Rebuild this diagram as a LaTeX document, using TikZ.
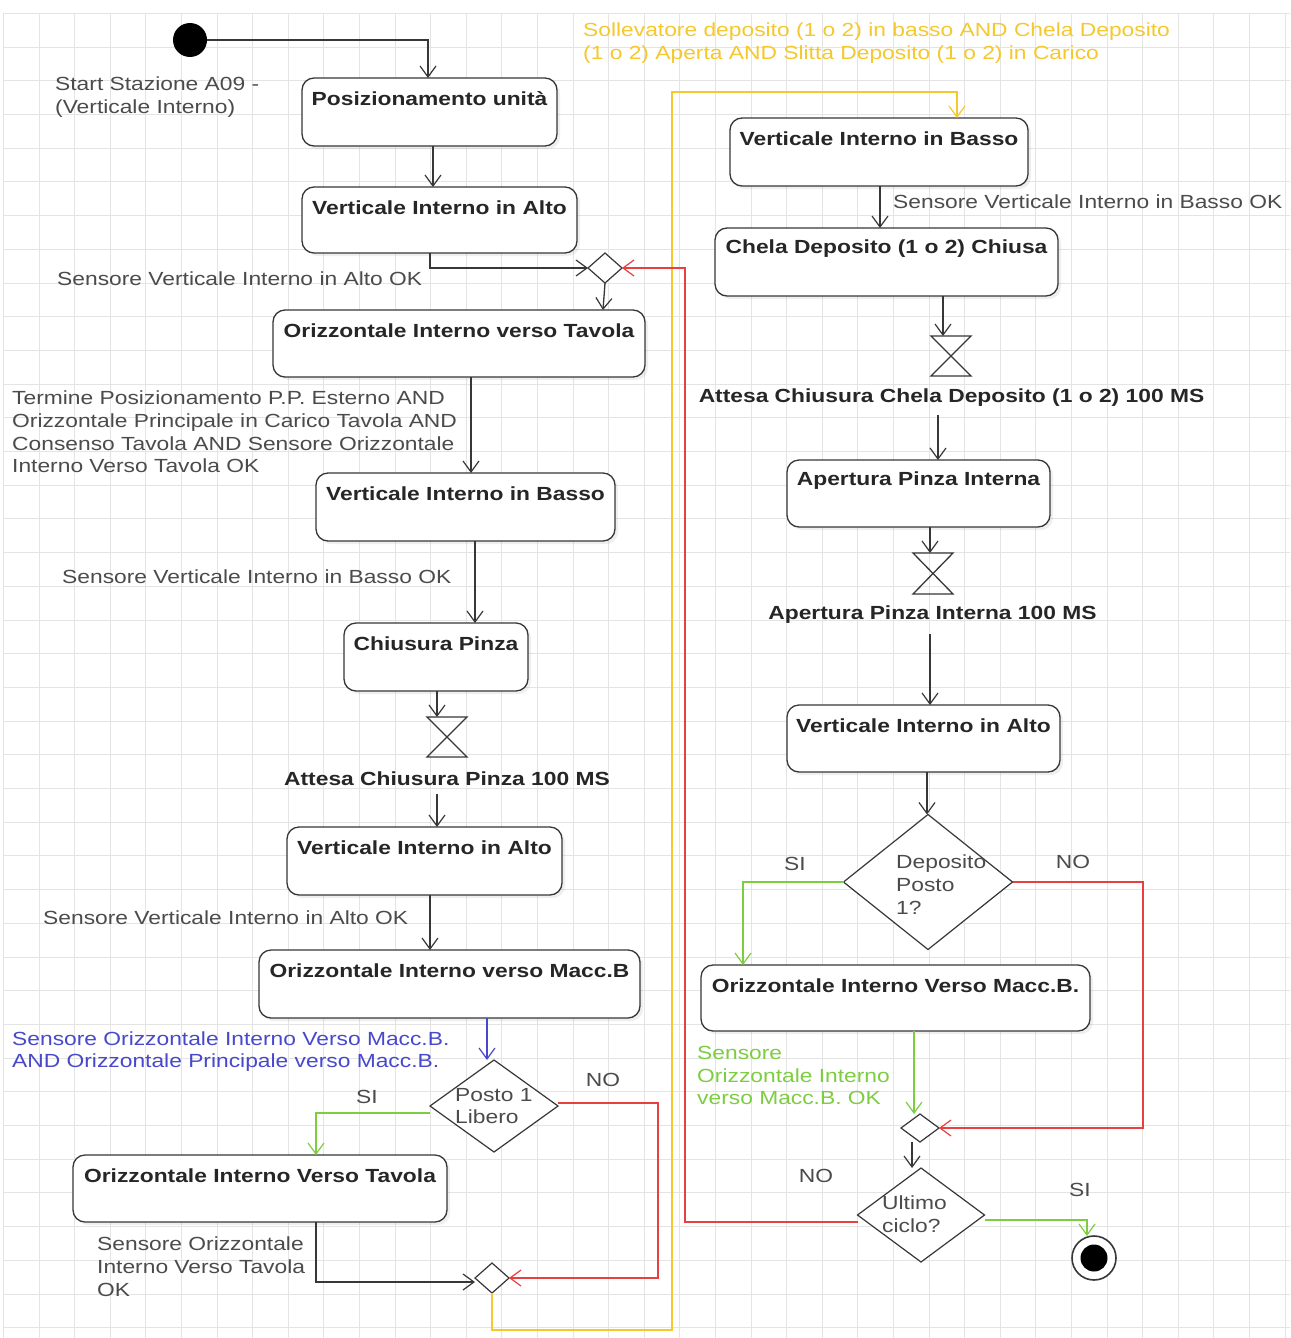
\documentclass[tikz,border=0pt]{standalone}
\usepackage{fontspec}
\setmainfont[FakeStretch=1.2]{Liberation Sans}
\usetikzlibrary{arrows.meta,shapes.geometric,calc,shadows}
\definecolor{cyel}{RGB}{245,200,45}
\definecolor{cgrn}{RGB}{125,205,65}
\definecolor{cred}{RGB}{232,64,64}
\definecolor{cblu}{RGB}{72,72,205}
\definecolor{clbl}{RGB}{75,75,75}
\definecolor{cbox}{RGB}{55,55,55}
\definecolor{cgrid}{RGB}{228,228,228}
\tikzset{
  actb/.style={draw=cbox, line width=1.3pt, rounded corners=12pt, fill=white, inner sep=0, outer sep=0,
     drop shadow={opacity=0.12, shadow xshift=3pt, shadow yshift=-3pt}},
  actt/.style={font=\fontsize{19}{22.7}\selectfont\bfseries, text=black!85, inner sep=0},
  lbl/.style={font=\fontsize{19}{22.7}\selectfont, text=clbl, inner sep=0, align=left, anchor=west},
  boldlbl/.style={font=\fontsize{19}{22.7}\selectfont\bfseries, text=black!85, inner sep=0},
  dia/.style={draw=cbox, line width=1.2pt, shape=diamond, fill=white, inner sep=0, outer sep=0},
  hg/.style={inner sep=0, outer sep=0, minimum width=40pt, minimum height=40pt},
  hgline/.style={draw=cbox, line width=1.3pt, line join=miter},
  arr/.style={draw=cbox, line width=1.3pt, -{Straight Barb[length=11pt,width=16pt,line width=1.2pt]}},
  garr/.style={arr, draw=cgrn, -{Straight Barb[length=11pt,width=16pt,line width=1.2pt,color=cgrn]}},
  rarr/.style={arr, draw=cred, -{Straight Barb[length=11pt,width=16pt,line width=1.2pt,color=cred]}},
  yarr/.style={arr, draw=cyel, -{Straight Barb[length=11pt,width=16pt,line width=1.2pt,color=cyel]}},
  barr/.style={arr, draw=cblu, -{Straight Barb[length=11pt,width=16pt,line width=1.2pt,color=cblu]}},
}
\newcommand\actbox[6]{%
  \node[actb, minimum width={#4-#2}, minimum height={#5-#3}] (#1) at ({(#2+#4)/2},{(#3+#5)/2}) {};
  \node[actt] (#1t) at ({(#2+#4)/2},{#3+21}) {#6};}
\newcommand\hourglass[1]{%
  \draw[hgline] (#1.north west) -- (#1.north east) -- (#1.south west) -- (#1.south east) -- cycle;}
\begin{document}
\begin{tikzpicture}[x=1pt,y=-1pt]
\useasboundingbox (0,0) rectangle (1290,1338);
\fill[white] (0,0) rectangle (1290,1338);
% grid
\foreach \i in {0,...,36} {\draw[cgrid, line width=0.8pt] ({3.4+35.6*\i},13) -- ({3.4+35.6*\i},1338);}
\foreach \j in {0,...,39} {\draw[cgrid, line width=0.8pt] (3,{13.3+33.7*\j}) -- (1290,{13.3+33.7*\j});}

% start / end
\node[circle, fill=black, minimum size=34pt, inner sep=0, outer sep=0] (start) at (190,40) {};
\node[circle, draw=cbox, line width=1.6pt, fill=white, minimum size=44pt, inner sep=0, outer sep=0] (endc) at (1094,1258) {};
\node[circle, fill=black, minimum size=27pt, inner sep=0] (endi) at (1094,1258) {};

% left column
\actbox{b1}{302}{78}{557}{146}{Posizionamento unità}
\actbox{b2}{302}{187}{577}{253}{Verticale Interno in Alto}
\node[dia, minimum width=34pt, minimum height=30pt] (d1) at (605,268) {};
\actbox{b3}{273}{310}{645}{377}{Orizzontale Interno verso Tavola}
\actbox{b4}{316}{473}{615}{541}{Verticale Interno in Basso}
\actbox{b5}{344}{623}{528}{691}{Chiusura Pinza}
\node[hg] (h1) at (447,737) {};
\hourglass{h1}
\node[boldlbl] (h1l) at (447,779) {Attesa Chiusura Pinza 100 MS};
\actbox{b6}{287}{827}{562}{895}{Verticale Interno in Alto}
\actbox{b7}{259}{950}{640}{1018}{Orizzontale Interno verso Macc.B}
\node[dia, minimum width=128pt, minimum height=92pt] (d2) at (494,1106) {};
\node[lbl] (d2t) at (455,1106) {Posto 1\\Libero};
\actbox{b8}{73}{1155}{447}{1222}{Orizzontale Interno Verso Tavola}
\node[dia, minimum width=34pt, minimum height=30pt] (d3) at (492,1278) {};

% right column
\actbox{b9}{730}{118}{1028}{186}{Verticale Interno in Basso}
\actbox{b10}{715}{228}{1058}{296}{Chela Deposito (1 o 2) Chiusa}
\node[hg] (h2) at (951,356) {};
\hourglass{h2}
\node[boldlbl] (h2l) at (951.5,398) {Attesa Chiusura Chela Deposito (1 o 2) 100 MS};
\actbox{b11}{787}{460}{1050}{527}{Apertura Pinza Interna}
\node[hg, minimum height=41pt] (h3) at (933,573.5) {};
\hourglass{h3}
\node[boldlbl] (h3l) at (932.5,615) {Apertura Pinza Interna 100 MS};
\actbox{b12}{787}{705}{1060}{772}{Verticale Interno in Alto}
\node[dia, minimum width=169pt, minimum height=135pt] (d4) at (928,882) {};
\node[lbl] (d4t) at (896,884.5) {Deposito\\Posto\\1?};
\actbox{b13}{701}{965}{1090}{1031}{Orizzontale Interno Verso Macc.B.}
\node[dia, minimum width=38pt, minimum height=28pt] (d5) at (920,1128) {};
\node[dia, minimum width=127pt, minimum height=94pt] (d6) at (921,1215) {};
\node[lbl] (d6t) at (882,1214) {Ultimo\\ciclo?};

% routing coordinates
\coordinate (rx1) at (658,0);
\coordinate (rx2) at (1143,0);
\coordinate (rx3) at (685,0);
\coordinate (ybot) at (672,1330);
\coordinate (ytop) at (672,92);

% labels
\node[lbl] (l0) at (55,97) {Start Stazione A09 -\\(Verticale Interno)};
\node[lbl, text=cyel] (ly) at (583,43) {Sollevatore deposito (1 o 2) in basso AND Chela Deposito\\(1 o 2) Aperta AND Slitta Deposito (1 o 2) in Carico};
\node[lbl] (l1) at (57,279) {Sensore Verticale Interno in Alto OK};
\node[lbl] (l2) at (12,432) {Termine Posizionamento P.P. Esterno AND\\Orizzontale Principale in Carico Tavola AND\\Consenso Tavola AND Sensore Orizzontale\\Interno Verso Tavola OK};
\node[lbl] (l3) at (62,577) {Sensore Verticale Interno in Basso OK};
\node[lbl] (l4) at (43,918) {Sensore Verticale Interno in Alto OK};
\node[lbl, text=cblu] (l5) at (12,1051.5) {Sensore Orizzontale Interno Verso Macc.B.\\AND Orizzontale Principale verso Macc.B.};
\node[lbl, anchor=center] (l6) at (367,1097) {SI};
\node[lbl, anchor=center] (l7) at (603,1080) {NO};
\node[lbl] (l8) at (97,1266.5) {Sensore Orizzontale\\Interno Verso Tavola\\OK};
\node[lbl] (l9) at (893,202) {Sensore Verticale Interno in Basso OK};
\node[lbl, anchor=center] (l10) at (795,864) {SI};
\node[lbl, anchor=center] (l11) at (1073,862) {NO};
\node[lbl, text=cgrn] (l12) at (697,1075.5) {Sensore\\Orizzontale Interno\\verso Macc.B. OK};
\node[lbl, anchor=center] (l13) at (816,1176) {NO};
\node[lbl, anchor=center] (l14) at (1080,1190) {SI};

% connectors
\draw[arr] (start.east) -| ([xshift=-1.5]b1.north);
\draw[arr] ([xshift=3.5]b1.south) -- ([xshift=3.5]b1.south |- b2.north);
\draw[arr] ([xshift=-9.5]b2.south) |- (d1.west);
\draw[arr] (d1.south) -- ([xshift=-2]d1.south |- b3.north);
\draw[arr] ([xshift=12]b3.south) -- ([xshift=12]b3.south |- b4.north);
\draw[arr] ([xshift=9.5]b4.south) -- ([xshift=9.5]b4.south |- b5.north);
\draw[arr] ([xshift=1]b5.south) -- ([xshift=1]b5.south |- h1.north);
\draw[arr] ([xshift=-10,yshift=-8]h1l.south) -- ([xshift=-10]h1l.south |- b6.north);
\draw[arr] ([xshift=5.5]b6.south) -- ([xshift=5.5]b6.south |- b7.north);
\draw[barr] ([xshift=37.5]b7.south) -- ([xshift=37.5]b7.south |- d2.north);
\draw[garr] ([yshift=-7]d2.west) -| ([xshift=56]b8.north);
\draw[rarr] ([yshift=3]d2.east) -| (d3.east -| rx1) -- (d3.east);
\draw[arr] ([xshift=56]b8.south) |- ([yshift=-4]d3.west);
\draw[yarr] (d3.south) |- (ybot) -- (ytop) -| ([xshift=78]b9.north);

\draw[arr] ([xshift=1]b9.south) -- ([xshift=1]b9.south |- b10.north);
\draw[arr] ([xshift=56.5]b10.south) -- ([xshift=56.5]b10.south |- h2.north);
\draw[arr] ([xshift=-13.5,yshift=-8]h2l.south) -- ([xshift=-13.5]h2l.south |- b11.north);
\draw[arr] ([xshift=11.5]b11.south) -- ([xshift=11.5]b11.south |- h3.north);
\draw[arr] ([xshift=-2.5,yshift=-10]h3l.south) -- ([xshift=-2.5]h3l.south |- b12.north);
\draw[arr] ([xshift=3.5]b12.south) -- ([xshift=3.5]b12.south |- d4.north);
\draw[garr] (d4.west) -| ([xshift=-152.5]b13.north);
\draw[rarr] (d4.east) -| (d5.east -| rx2) -- (d5.east);
\draw[garr] ([xshift=18.5]b13.south) -- ([xshift=18.5]b13.south |- d5.north);
\draw[arr] ([xshift=-8]d5.south) -- ([xshift=-8]d5.south |- d6.north);
\draw[rarr] ([yshift=-7]d6.west) -| (d1.east -| rx3) -- (d1.east);
\draw[garr] ([yshift=-5]d6.east) -| ([xshift=-7]endc.north);
\end{tikzpicture}
\end{document}
